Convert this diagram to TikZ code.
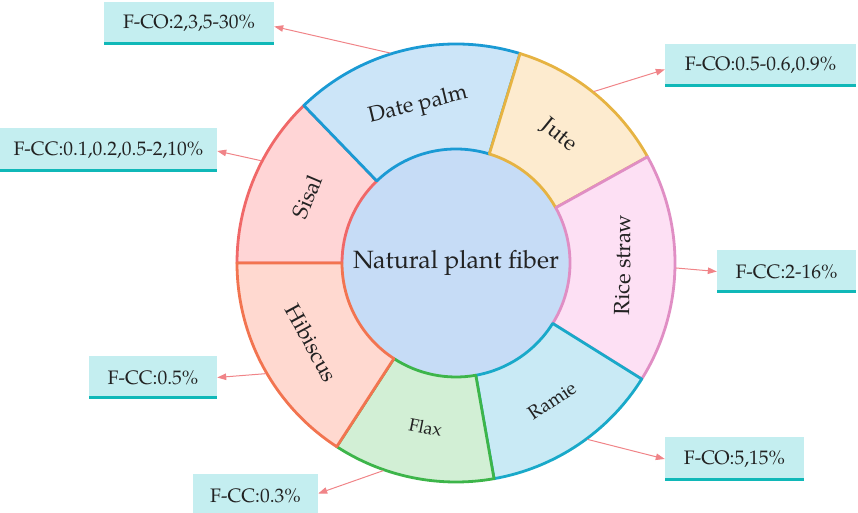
\documentclass[tikz,border=0pt]{standalone}
\usepackage{fontspec}
\setmainfont{TeX Gyre Pagella}
\usetikzlibrary{arrows.meta,calc}
\definecolor{innerF}{HTML}{C6DCF6}
\definecolor{sisalF}{HTML}{FFD5D6}\definecolor{sisalD}{HTML}{F06868}
\definecolor{dateF}{HTML}{CCE5F8}\definecolor{dateD}{HTML}{1A9AD4}
\definecolor{juteF}{HTML}{FDEBCF}\definecolor{juteD}{HTML}{E6B342}
\definecolor{riceF}{HTML}{FDE0F4}\definecolor{riceD}{HTML}{E08EC4}
\definecolor{ramieF}{HTML}{C9EAF5}\definecolor{ramieD}{HTML}{19A9C9}
\definecolor{flaxF}{HTML}{D2EFD5}\definecolor{flaxD}{HTML}{3DB54A}
\definecolor{hibF}{HTML}{FFD9D0}\definecolor{hibD}{HTML}{F27450}
\definecolor{boxF}{HTML}{C4EEF0}\definecolor{boxL}{HTML}{10B8B8}
\definecolor{arr}{HTML}{F08488}
\definecolor{txt}{HTML}{222222}
\tikzset{
  seglabel/.style={text=txt,inner sep=0pt,font=\fontsize{22}{24}\selectfont},
  infobox/.style={fill=boxF,text=txt,inner sep=0pt,font=\fontsize{19.5}{22}\selectfont,
    path picture={\draw[boxL,line width=3.2pt]([yshift=1.6pt]path picture bounding box.south west) -- ([yshift=1.6pt]path picture bounding box.south east);}},
  callout/.style={arr,line width=1pt,-{Triangle[length=9pt,width=6.5pt]}}
}
\begin{document}
\begin{tikzpicture}[x=1pt,y=1pt]
\useasboundingbox (0,0) rectangle (858,513);
\coordinate (C) at (456,250);
\fill[innerF] (C) circle[radius=114];
\foreach \a/\b/\f/\d in {134/180/sisalF/sisalD, 73/134/dateF/dateD, 29/73/juteF/juteD, -32/29/riceF/riceD, -80/-32/ramieF/ramieD, -123/-80/flaxF/flaxD, 180/237/hibF/hibD}{
  \filldraw[fill=\f,draw=\d,line width=2.8pt,line join=round]
    ($(C)+(\a:219)$) arc[start angle=\a,end angle=\b,radius=219]
    -- ($(C)+(\b:114)$) arc[start angle=\b,end angle=\a,radius=114] -- cycle;
}
\node[text=txt,font=\fontsize{25}{28}\selectfont] (center) at (C) {Natural plant fiber};
\node[seglabel,rotate=13.5] (date) at ($(C)+(103.5:162)$) {Date palm};
\node[seglabel,rotate=-39] (jute) at ($(C)+(51:164)$) {Jute};
\node[seglabel,rotate=89] (rice) at ($(C)+(-0.7:167)$) {Rice straw};
\node[seglabel,rotate=34,font=\fontsize{19}{22}\selectfont] (ramie) at ($(C)+(-55:168)$) {Ramie};
\node[seglabel,rotate=-11.5,font=\fontsize{18}{20}\selectfont] (flax) at ($(C)+(-100.5:167)$) {Flax};
\node[seglabel,rotate=-61.5] (hib) at ($(C)+(209:165)$) {Hibiscus};
\node[seglabel,rotate=67] (sisal) at ($(C)+(156:163)$) {Sisal};
% info boxes
\node[infobox,minimum width=170pt,minimum height=43pt] (b1) at (189,489.5) {F-CO:2,3,5-30\%};
\node[infobox,minimum width=217pt,minimum height=44pt] (b2) at (108.5,363) {F-CC:0.1,0.2,0.5-2,10\%};
\node[infobox,minimum width=191pt,minimum height=43pt] (b3) at (760.5,447.5) {F-CO:0.5-0.6,0.9\%};
\node[infobox,minimum width=139pt,minimum height=43pt] (b4) at (786.5,241.5) {F-CC:2-16\%};
\node[infobox,minimum width=139pt,minimum height=44pt] (b5) at (734.5,54) {F-CO:5,15\%};
\node[infobox,minimum width=128pt,minimum height=43pt] (b6) at (153,135.5) {F-CC:0.5\%};
\node[infobox,minimum width=125pt,minimum height=43pt] (b7) at (255.5,17.5) {F-CC:0.3\%};
% ring anchor points
\coordinate (p1) at ($(C)+(107.4:220)$);
\coordinate (p2) at ($(C)+(152.3:220)$);
\coordinate (p3) at ($(C)+(51.2:220)$);
\coordinate (p4) at ($(C)+(-1.3:220)$);
\coordinate (p5) at ($(C)+(-53.3:220)$);
\coordinate (p6) at ($(C)+(210.2:220)$);
\coordinate (p7) at ($(C)+(-109.3:220)$);
\draw[callout] (p1) -- ([yshift=-3pt]b1.east);
\draw[callout] (p2) -- ([yshift=-1pt]b2.east);
\draw[callout] (p3) -- ([yshift=-4pt]b3.west);
\draw[callout] (p4) -- (b4.west);
\draw[callout] (p5) -- (b5.west);
\draw[callout] (p6) -- (b6.east);
\draw[callout] (p7) -- ([yshift=2pt]b7.east);
\end{tikzpicture}
\end{document}
